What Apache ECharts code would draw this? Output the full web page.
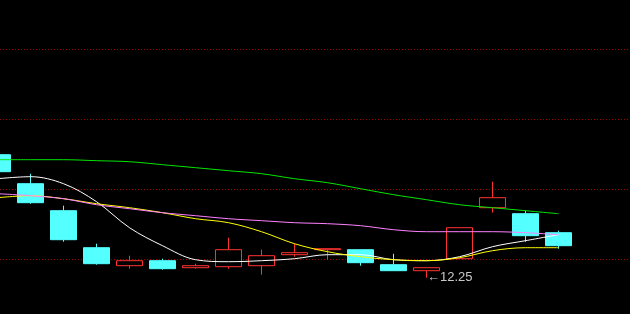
<!DOCTYPE html>
<html>
<head>
<meta charset="utf-8">
<script src="https://cdn.jsdelivr.net/npm/echarts@6/dist/echarts.min.js"></script>
<style>html,body{margin:0;padding:0;background:#000;}#c{width:630px;height:314px;}</style>
</head>
<body>
<div id="c"></div>
<script>
// ---- data ----
const categories = ['D1','D2','D3','D4','D5','D6','D7','D8','D9','D10','D11','D12','D13','D14','D15','D16','D17','D18'];
// candles
const opens  = [13.48, 13.19, 12.92, 12.55, 12.37, 12.42, 12.35, 12.36, 12.37, 12.48, 12.53, 12.53, 12.38, 12.32, 12.44, 12.95, 12.89, 12.70];
const closes = [13.31, 13.00, 12.63, 12.39, 12.42, 12.34, 12.37, 12.53, 12.47, 12.50, 12.54, 12.40, 12.32, 12.35, 12.75, 13.05, 12.67, 12.57];
const lows   = [13.29, 12.99, 12.61, 12.38, 12.34, 12.33, 12.34, 12.34, 12.28, 12.46, 12.43, 12.37, 12.32, 12.25, 12.44, 12.90, 12.61, 12.54];
const highs  = [13.50, 13.29, 12.97, 12.59, 12.47, 12.44, 12.39, 12.65, 12.53, 12.59, 12.54, 12.53, 12.49, 12.35, 12.75, 13.21, 12.92, 12.72];
// moving averages
const ma5  = [13.24, 13.26, 13.19, 13.01, 12.75, 12.57, 12.43, 12.41, 12.42, 12.44, 12.48, 12.48, 12.43, 12.42, 12.46, 12.56, 12.62, 12.68];
const ma10 = [13.05, 13.07, 13.04, 12.99, 12.95, 12.90, 12.84, 12.80, 12.71, 12.59, 12.51, 12.46, 12.43, 12.42, 12.45, 12.52, 12.55, 12.55];
const ma20 = [13.09, 13.07, 13.04, 12.98, 12.94, 12.90, 12.87, 12.84, 12.82, 12.80, 12.79, 12.77, 12.73, 12.71, 12.71, 12.71, 12.70, 12.68];
const ma60 = [13.43, 13.43, 13.43, 13.42, 13.41, 13.38, 13.35, 13.32, 13.29, 13.24, 13.20, 13.14, 13.08, 13.03, 12.98, 12.95, 12.92, 12.89];

// ---- layout / style ----
const Y_MIN = 11.887, Y_MAX = 15.027;
const candleData = opens.map((o, i) => [o, closes[i], lows[i], highs[i]]);

const chart = echarts.init(document.getElementById('c'), null, {renderer: 'canvas'});
const lineSeries = (name, data, color) => ({
  name, type: 'line', data, xAxisIndex: 0, yAxisIndex: 0,
  showSymbol: false, symbol: 'none', smooth: 0.35, z: 5,
  lineStyle: {color, width: 1}, silent: true
});

chart.setOption({
  backgroundColor: '#000',
  animation: false,
  grid: [
    {left: -19, top: 0, width: 594, height: 314, outerBoundsMode: 'none', containLabel: false},
    {left: 0, top: -21, width: 630, height: 350, outerBoundsMode: 'none', containLabel: false}
  ],
  xAxis: [
    {type: 'category', gridIndex: 0, data: categories, boundaryGap: true, show: false},
    {type: 'value', gridIndex: 1, min: 0, max: 1, show: false}
  ],
  yAxis: [
    {type: 'value', gridIndex: 0, min: Y_MIN, max: Y_MAX, show: false, splitLine: {show: false}},
    {type: 'value', gridIndex: 1, min: 0, max: 5, interval: 1,
     axisLine: {show: false}, axisTick: {show: false}, axisLabel: {show: false},
     splitLine: {show: true, lineStyle: {color: '#A00000', width: 1, type: [1, 2]}}}
  ],
  series: [
    {
      type: 'candlestick', data: candleData, xAxisIndex: 0, yAxisIndex: 0,
      barWidth: 26, z: 2,
      itemStyle: {color: '#000', color0: '#54FFFF', borderColor: '#FF3232', borderColor0: '#54FFFF', borderWidth: 1},
      markPoint: {
        symbol: 'circle', symbolSize: 1,
        itemStyle: {color: 'rgba(0,0,0,0)'},
        label: {
          show: true, position: 'right', distance: 0,
          color: '#C8C8C8', fontSize: 13, fontFamily: 'Liberation Sans, DejaVu Sans, sans-serif',
          formatter: p => '\u2190' + Number(p.value).toFixed(2)
        },
        data: [{type: 'min', valueDim: 'lowest'}]
      }
    },
    lineSeries('MA5', ma5, '#FFFFFF'),
    lineSeries('MA10', ma10, '#FFFF00'),
    lineSeries('MA20', ma20, '#FF80FF'),
    lineSeries('MA60', ma60, '#00E600')
  ]
});
</script>
</body>
</html>
